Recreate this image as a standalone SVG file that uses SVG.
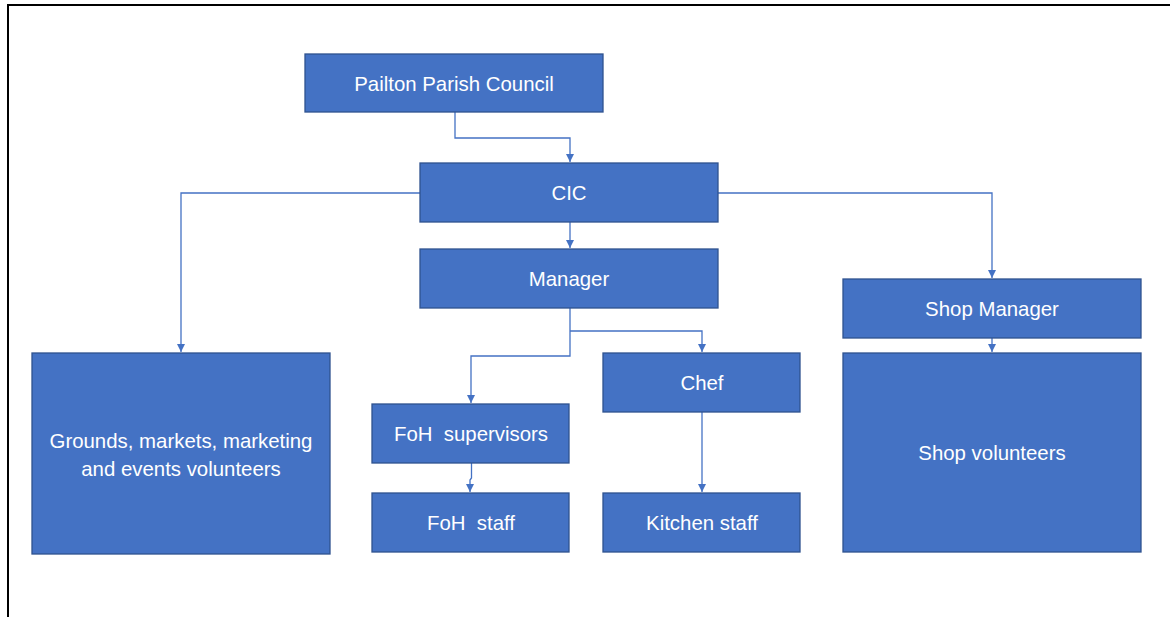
<svg xmlns="http://www.w3.org/2000/svg" width="1170" height="617" viewBox="0 0 1170 617">
<defs>
<style>
.box{fill:#4472C4;stroke:#2F528F;stroke-width:1.3}
.lbl{fill:#FFFFFF;font-family:"Liberation Sans",Arial,sans-serif;font-size:20.4px;text-anchor:middle;dominant-baseline:central}
.con{fill:none;stroke:#4472C4;stroke-width:1.3}
.frame{stroke:#000000;stroke-width:2;fill:none}
</style>
<marker id="arr" markerWidth="10" markerHeight="10" refX="8" refY="5" orient="auto" markerUnits="userSpaceOnUse">
<path d="M0,1 L8,5 L0,9 Z" fill="#4472C4"/>
</marker>
</defs>
<rect width="1170" height="617" fill="#FFFFFF"/>
<path class="frame" d="M8,617 L8,5 L1170,5"/>
<g id="connectors">
<path class="con" d="M455,112 V138 H570 V162" marker-end="url(#arr)"/>
<path class="con" d="M420,193 H181 V352" marker-end="url(#arr)"/>
<path class="con" d="M718,193 H992 V278" marker-end="url(#arr)"/>
<path class="con" d="M570,222 V248" marker-end="url(#arr)"/>
<path class="con" d="M570,308 V356 H471 V403" marker-end="url(#arr)"/>
<path class="con" d="M570,331 H702 V352" marker-end="url(#arr)"/>
<path class="con" d="M702,412 V492" marker-end="url(#arr)"/>
<path class="con" d="M471.5,463 V478 L470,480 V492" marker-end="url(#arr)"/>
<path class="con" d="M992,338 V352" marker-end="url(#arr)"/>
</g>
<g id="pailton">
<rect class="box" x="305" y="54" width="298" height="58"/>
<text class="lbl" x="454" y="84">Pailton Parish Council</text>
</g>
<g id="cic">
<rect class="box" x="420" y="163" width="298" height="59"/>
<text class="lbl" x="569" y="193">CIC</text>
</g>
<g id="manager">
<rect class="box" x="420" y="249" width="298" height="59"/>
<text class="lbl" x="569" y="279">Manager</text>
</g>
<g id="shopmanager">
<rect class="box" x="843" y="279" width="298" height="59"/>
<text class="lbl" x="992" y="309">Shop Manager</text>
</g>
<g id="shopvolunteers">
<rect class="box" x="843" y="353" width="298" height="199"/>
<text class="lbl" x="992" y="453">Shop volunteers</text>
</g>
<g id="grounds">
<rect class="box" x="32" y="353" width="298" height="201"/>
<text class="lbl" x="181" y="441">Grounds, markets, marketing</text>
<text class="lbl" x="181" y="469">and events volunteers</text>
</g>
<g id="fohsupervisors">
<rect class="box" x="372" y="404" width="197" height="59"/>
<text class="lbl" x="471" y="434" xml:space="preserve">FoH  supervisors</text>
</g>
<g id="fohstaff">
<rect class="box" x="372" y="493" width="197" height="59"/>
<text class="lbl" x="471" y="523" xml:space="preserve">FoH  staff</text>
</g>
<g id="chef">
<rect class="box" x="603" y="353" width="197" height="59"/>
<text class="lbl" x="702" y="383">Chef</text>
</g>
<g id="kitchenstaff">
<rect class="box" x="603" y="493" width="197" height="59"/>
<text class="lbl" x="702" y="523">Kitchen staff</text>
</g>
</svg>
